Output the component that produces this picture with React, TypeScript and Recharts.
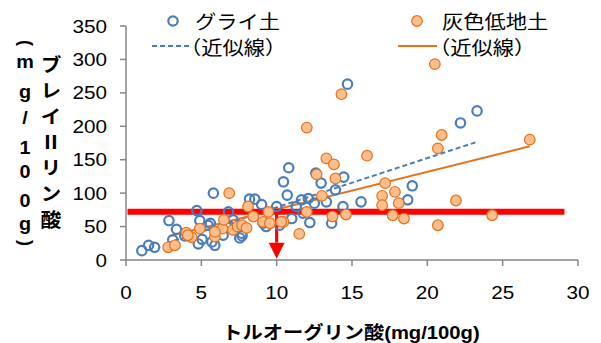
import React from "react";
import {
  ScatterChart,
  Scatter,
  XAxis,
  YAxis,
  ReferenceLine,
  ReferenceDot,
  Legend,
} from "recharts";

const xTicks = [0, 5, 10, 15, 20, 25, 30];
const yTicks = [0, 50, 100, 150, 200, 250, 300, 350];

const gleySoil = [
  { x: 1.05, y: 14 }, { x: 1.5, y: 22 }, { x: 1.9, y: 19 }, { x: 2.85, y: 59 },
  { x: 3.35, y: 46 }, { x: 3.1, y: 30 }, { x: 3.9, y: 36 }, { x: 4.7, y: 74 },
  { x: 4.9, y: 59 }, { x: 4.8, y: 24 }, { x: 5.05, y: 31 }, { x: 5.8, y: 100 },
  { x: 5.45, y: 52 }, { x: 5.9, y: 22 }, { x: 6.45, y: 37 }, { x: 6.8, y: 72 },
  { x: 7.1, y: 60 }, { x: 7.55, y: 33 }, { x: 7.7, y: 36 }, { x: 8.2, y: 91 },
  { x: 8.55, y: 91 }, { x: 9.0, y: 83 }, { x: 9.1, y: 55 }, { x: 9.3, y: 50 },
  { x: 10.0, y: 80 }, { x: 10.45, y: 117 }, { x: 10.8, y: 138 }, { x: 10.7, y: 97 },
  { x: 11.0, y: 62 }, { x: 11.3, y: 80 }, { x: 11.65, y: 90 }, { x: 12.1, y: 92 },
  { x: 11.75, y: 70 }, { x: 12.2, y: 56 }, { x: 12.5, y: 85 }, { x: 12.6, y: 130 },
  { x: 12.95, y: 115 }, { x: 13.3, y: 87 }, { x: 13.65, y: 55 }, { x: 13.9, y: 105 },
  { x: 14.45, y: 124 }, { x: 14.4, y: 80 }, { x: 15.6, y: 87 }, { x: 18.7, y: 90 },
  { x: 19.0, y: 111 }, { x: 22.2, y: 205 }, { x: 23.3, y: 223 }, { x: 14.7, y: 263 },
  { x: 5.6, y: 55 }, { x: 5.7, y: 27 }, { x: 6.8, y: 52 }, { x: 7.7, y: 40 },
  { x: 10.2, y: 52 },
];

const grayLowlandSoil = [
  { x: 2.8, y: 19 }, { x: 3.25, y: 22 }, { x: 4.0, y: 41 }, { x: 4.35, y: 34 },
  { x: 4.9, y: 47 }, { x: 5.9, y: 35 }, { x: 6.4, y: 47 }, { x: 6.85, y: 100 },
  { x: 6.5, y: 60 }, { x: 7.1, y: 45 }, { x: 7.4, y: 50 }, { x: 7.7, y: 52 },
  { x: 8.0, y: 48 }, { x: 8.1, y: 80 }, { x: 8.45, y: 65 }, { x: 9.1, y: 57 },
  { x: 9.55, y: 55 }, { x: 9.45, y: 72 }, { x: 10.45, y: 57 }, { x: 11.5, y: 39 },
  { x: 13.3, y: 152 }, { x: 13.8, y: 143 }, { x: 16.0, y: 156 }, { x: 12.65, y: 128 },
  { x: 13.9, y: 122 }, { x: 13.0, y: 96 }, { x: 12.0, y: 72 }, { x: 13.7, y: 65 },
  { x: 14.6, y: 68 }, { x: 20.5, y: 293 }, { x: 14.3, y: 248 }, { x: 12.0, y: 198 },
  { x: 20.95, y: 187 }, { x: 20.7, y: 167 }, { x: 26.8, y: 180 }, { x: 17.2, y: 115 },
  { x: 17.0, y: 96 }, { x: 17.85, y: 102 }, { x: 18.1, y: 85 }, { x: 17.0, y: 82 },
  { x: 17.7, y: 67 }, { x: 18.45, y: 62 }, { x: 21.9, y: 89 }, { x: 20.7, y: 52 },
  { x: 24.3, y: 67 }, { x: 5.9, y: 42 }, { x: 4.1, y: 37 }, { x: 10.3, y: 57 },
];

const gleyTrend = [{ x: 2.7, y: 25 }, { x: 23.2, y: 176 }];
const grayTrend = [{ x: 2.9, y: 36 }, { x: 26.8, y: 170 }];
const thresholdLine = [{ x: 0.1, y: 72 }, { x: 29.1, y: 72 }];
const arrowShaft = [{ x: 10, y: 72 }, { x: 10, y: 26 }];
const arrowTip = { x: 10, y: 2 };

const BLUE = "#4A7EBB";
const ORANGE = "#E8711A";
const ORANGE_FILL = "#FBBE8C";
const AXIS = "#868686";
const NUM_FONT = "'Liberation Sans', Arial, 'Noto Sans CJK JP', sans-serif";
const JP_FONT = "'Noto Sans CJK JP', sans-serif";

const BlueRing = (p: any) => (
  <circle cx={p.cx} cy={p.cy} r={4.7} fill="none" stroke={BLUE} strokeWidth={2.2} />
);
const OrangeDot = (p: any) => (
  <circle cx={p.cx} cy={p.cy} r={5.3} fill={ORANGE_FILL} stroke={ORANGE} strokeWidth={1.2} />
);

const XTick = (p: any) => (
  <text
    transform={`translate(${p.x},${p.y + 30.5}) scale(1.15,1)`}
    textAnchor="middle"
    fontFamily={NUM_FONT}
    fontSize={18}
    fill="#000"
  >
    {p.payload.value}
  </text>
);

const YTick = (p: any) => (
  <text
    transform={`translate(${p.x - 11},${p.y + 6.5}) scale(1.15,1)`}
    textAnchor="end"
    fontFamily={NUM_FONT}
    fontSize={18}
    fill="#000"
  >
    {p.payload.value}
  </text>
);

const leftCol = [
  { c: "m", y: 68 }, { c: "g", y: 97.5 }, { c: "/", y: 124 }, { c: "1", y: 154 },
  { c: "0", y: 178 }, { c: "0", y: 207 }, { c: "g", y: 230 },
];

const YTitle = () => (
  <g fontWeight="bold" fill="#000">
    <text transform="translate(25,43) rotate(90)" textAnchor="middle" dy="0.3em" fontFamily={NUM_FONT} fontSize={18}>(</text>
    {leftCol.map((d, i) => (
      <text key={i} transform={`translate(25,${d.y}) scale(1.1,1)`} textAnchor="middle" fontFamily={NUM_FONT} fontSize={18}>
        {d.c}
      </text>
    ))}
    <text transform="translate(25,243) rotate(90)" textAnchor="middle" dy="0.3em" fontFamily={NUM_FONT} fontSize={18}>)</text>
    <text
      transform="translate(51,55.5) scale(1.1,1)"
      x={0}
      y={0}
      style={{ writingMode: "vertical-rl", letterSpacing: "6.8px" }}
      fontFamily={JP_FONT}
      fontSize={19}
    >
      ブレイⅡリン酸
    </text>
  </g>
);

const XTitle = () => (
  <text
    transform="translate(351,338.5) scale(1.125,1)"
    textAnchor="middle"
    fontFamily={NUM_FONT}
    fontWeight="bold"
    fontSize={18}
    fill="#000"
  >
    トルオーグリン酸(mg/100g)
  </text>
);

const LegendBox = () => (
  <svg width={601} height={60} style={{ display: "block" }}>
    <circle cx={173} cy={21} r={4.7} fill="none" stroke={BLUE} strokeWidth={2.2} />
    <text transform="translate(195,29) scale(1.12,1)" fontFamily={JP_FONT} fontSize={19} fill="#000">グライ土</text>
    <line x1={152} y1={46} x2={191} y2={46} stroke={BLUE} strokeWidth={2} strokeDasharray="5 3" />
    <text transform="translate(180,55) scale(1.12,1)" fontFamily={JP_FONT} fontSize={19} fill="#000">（近似線）</text>
    <circle cx={417} cy={21} r={5.3} fill={ORANGE_FILL} stroke={ORANGE} strokeWidth={1.2} />
    <text transform="translate(442,29) scale(1.12,1)" fontFamily={JP_FONT} fontSize={19} fill="#000">灰色低地土</text>
    <line x1={398} y1={46} x2={437} y2={46} stroke={ORANGE} strokeWidth={2} />
    <text transform="translate(429,55) scale(1.12,1)" fontFamily={JP_FONT} fontSize={19} fill="#000">（近似線）</text>
  </svg>
);

const ArrowHead = (p: any) => (
  <polygon
    points={`${p.cx - 8},${p.cy - 16} ${p.cx + 8},${p.cy - 16} ${p.cx},${p.cy}`}
    fill="#FF0000"
  />
);

export default function App() {
  return (
    <div style={{ position: "absolute", left: 0, top: 0, width: 601, height: 343, background: "#fff" }}>
      <ScatterChart width={601} height={343} margin={{ top: 26, right: 23, bottom: 0, left: 0 }}>
        <XAxis
          type="number"
          dataKey="x"
          domain={[0, 30]}
          ticks={xTicks}
          height={83}
          tickSize={6}
          axisLine={{ stroke: AXIS, strokeWidth: 1.5 }}
          tickLine={{ stroke: AXIS, strokeWidth: 1.5 }}
          tick={<XTick />}
          label={<XTitle />}
          allowDataOverflow
        />
        <YAxis
          type="number"
          dataKey="y"
          domain={[0, 350]}
          ticks={yTicks}
          width={126}
          tickSize={6}
          axisLine={{ stroke: AXIS, strokeWidth: 1.5 }}
          tickLine={{ stroke: AXIS, strokeWidth: 1.5 }}
          tick={<YTick />}
          label={<YTitle />}
          allowDataOverflow
        />
        <Legend
          verticalAlign="middle"
          align="center"
          layout="horizontal"
          content={<LegendBox />}
          wrapperStyle={{ position: "absolute", left: 0, top: 0, width: 601, height: 60, margin: 0 }}
        />
        <Scatter name="グライ土" data={gleySoil} shape={<BlueRing />} isAnimationActive={false} />
        <Scatter name="灰色低地土" data={grayLowlandSoil} shape={<OrangeDot />} isAnimationActive={false} />
        <ReferenceLine segment={gleyTrend} stroke={BLUE} strokeWidth={2} strokeDasharray="5 3" />
        <ReferenceLine segment={grayTrend} stroke={ORANGE} strokeWidth={2} />
        <ReferenceLine segment={thresholdLine} stroke="#FF0000" strokeWidth={6} />
        <ReferenceLine segment={arrowShaft} stroke="#FF0000" strokeWidth={3.2} />
        <ReferenceDot x={arrowTip.x} y={arrowTip.y} shape={<ArrowHead />} />
      </ScatterChart>
    </div>
  );
}
